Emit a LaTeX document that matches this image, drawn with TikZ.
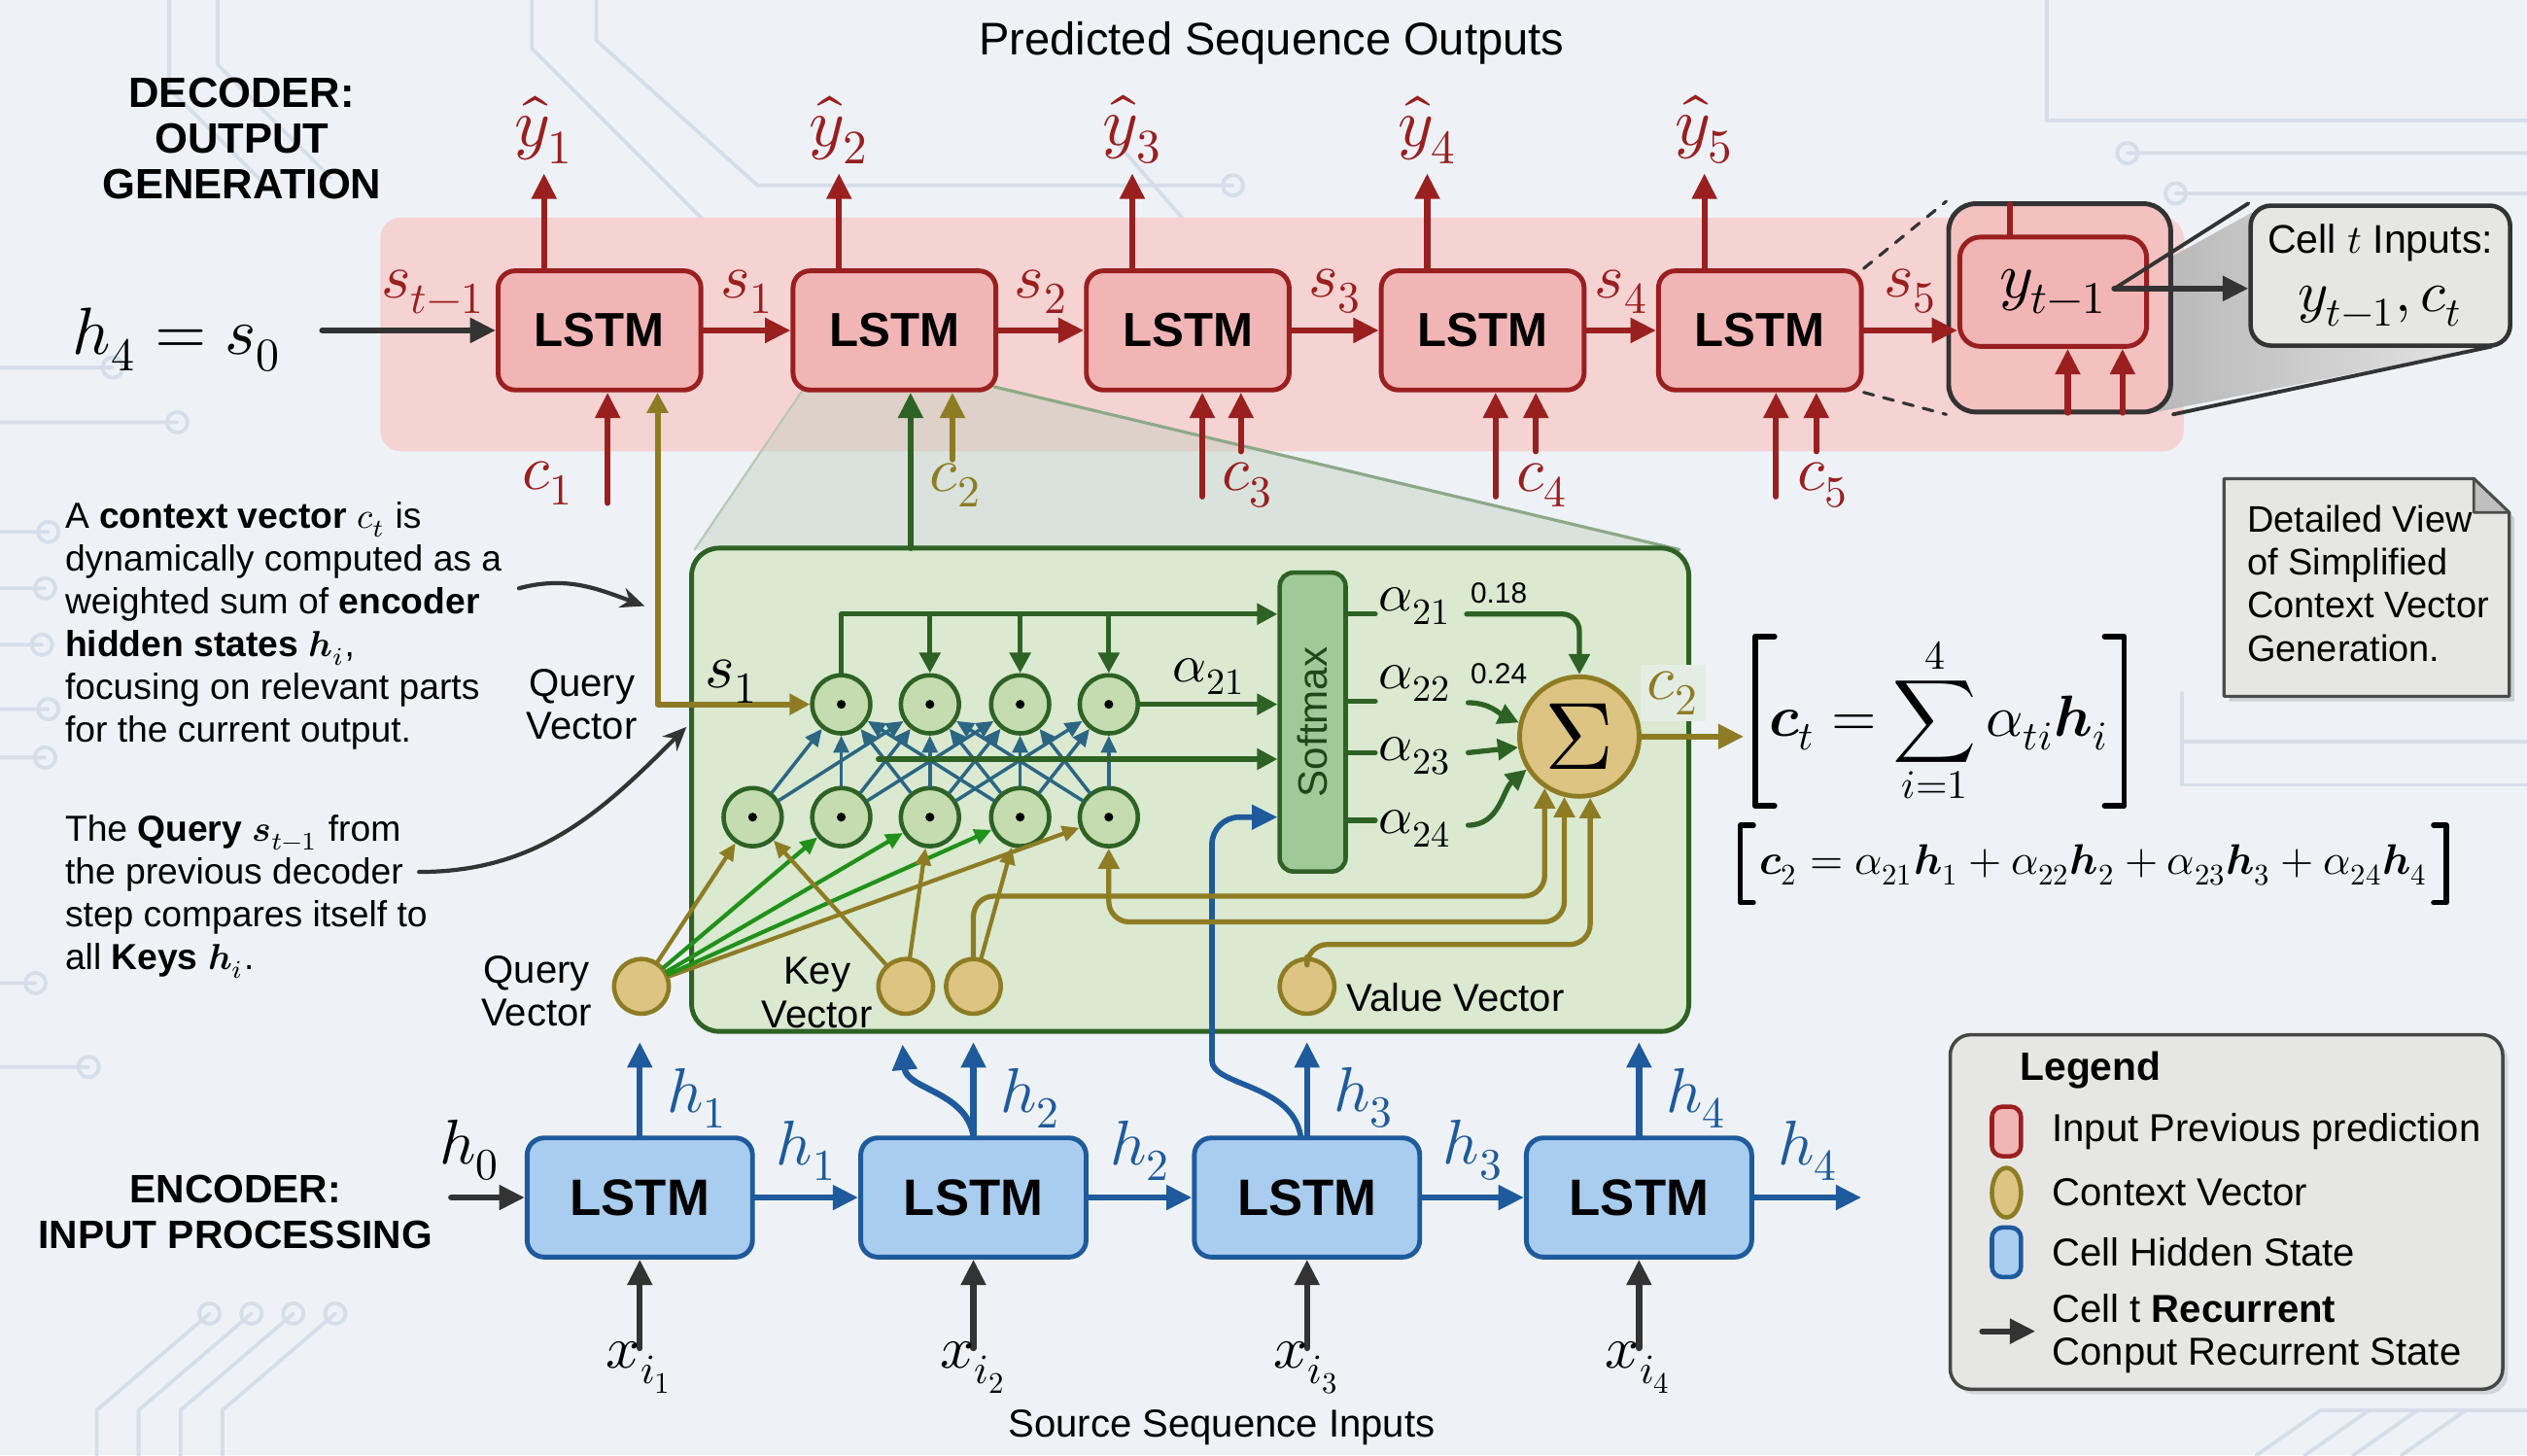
\documentclass[tikz,border=0pt]{standalone}
\usepackage{unicode-math}
\setmainfont{Liberation Sans}
\setmathfont{Latin Modern Math}
\usetikzlibrary{arrows.meta,positioning,calc,shapes.geometric,shadows}
\definecolor{bgc}{HTML}{EEF2F7}
\definecolor{trace}{HTML}{D5DEE9}
\definecolor{decred}{HTML}{9A1F1F}
\definecolor{decfill}{HTML}{F2B5B5}
\definecolor{band}{HTML}{F6D3D3}
\definecolor{encblue}{HTML}{1E5A9C}
\definecolor{encfill}{HTML}{A8CDEE}
\definecolor{attgreen}{HTML}{2E6224}
\definecolor{attfill}{HTML}{DAE9D0}
\definecolor{dotfill}{HTML}{C4DCB0}
\definecolor{smfill}{HTML}{9FCA98}
\definecolor{olive}{HTML}{8E7C24}
\definecolor{tanfill}{HTML}{DDC482}
\definecolor{crossc}{HTML}{2B6683}
\definecolor{notegray}{HTML}{E6E6E4}
\definecolor{darkg}{HTML}{333333}
\tikzset{
  bigtip/.style={-{Triangle[length=7.5pt,width=7pt]}},
  smalltip/.style={-{Triangle[length=5pt,width=4.5pt]}},
  redarr/.style={draw=decred, line width=1.8pt, bigtip},
  bluearr/.style={draw=encblue, line width=1.8pt, bigtip},
  blkarr/.style={draw=darkg, line width=1.8pt, bigtip},
  grnarr/.style={draw=attgreen, line width=1.5pt, -{Triangle[length=6pt,width=6pt]}},
  olvarr/.style={draw=olive, line width=1.5pt, -{Triangle[length=6pt,width=6pt]}},
  olvboth/.style={draw=olive, line width=1.5pt, {Triangle[length=6pt,width=6pt]}-{Triangle[length=6pt,width=6pt]}},
  fanolv/.style={draw=olive, line width=1.2pt, smalltip},
  fangrn/.style={draw=attgreen!70!green, line width=1.2pt, smalltip},
  crossarr/.style={draw=crossc, line width=1pt, smalltip},
  declstm/.style={draw=decred, fill=decfill, line width=1.4pt, rounded corners=5pt,
    minimum width=59.4pt, minimum height=34.9pt, font=\fontsize{14}{14}\selectfont\bfseries},
  enclstm/.style={draw=encblue, fill=encfill, line width=1.4pt, rounded corners=5pt,
    minimum width=66pt, minimum height=34.9pt, font=\fontsize{15}{15}\selectfont\bfseries},
  dotnode/.style={circle, draw=attgreen, fill=dotfill, line width=1.3pt, minimum size=17pt, inner sep=0pt},
  vecnode/.style={circle, draw=olive, fill=tanfill, line width=1.3pt, minimum size=16pt, inner sep=0pt},
  mlab/.style={font=\fontsize{18.5}{20}\selectfont, inner sep=1pt},
  slab/.style={font=\fontsize{15.5}{17}\selectfont, inner sep=1pt},
  txt/.style={font=\fontsize{10.6}{12.55}\selectfont, align=left, inner sep=0pt},
  lab/.style={font=\fontsize{11.4}{12.6}\selectfont, align=center, inner sep=0pt},
  head/.style={font=\fontsize{12.4}{13.4}\selectfont\bfseries, align=center, inner sep=0pt},
  trc/.style={draw=trace, line width=1.1pt},
}
\begin{document}
\begin{tikzpicture}[x=0.016582cm, y=-0.016582cm, line join=round, line cap=round]
\useasboundingbox (0,0) rectangle (1568,903);
\fill[bgc] (0,0) rectangle (1568,903);
% faint circuit traces
\foreach \y/\l in {228/70,262/110,330/30,365/28,400/26,440/30,470/28,610/22,662/55}
  \draw[trc] (0,\y) -- (\l,\y) circle (3pt);
\draw[trc] (105,0) -- (105,55) -- (165,115);
\draw[trc] (135,0) -- (135,40) -- (205,110);
\draw[trc] (330,0) -- (330,30) -- (450,150) -- (780,150) circle (3pt);
\draw[trc] (370,0) -- (370,25) -- (470,115) -- (765,115) circle (3pt);
\draw[trc] (690,85) -- (755,160);
\draw[trc] (1270,0) -- (1270,75) -- (1568,75);
\draw[trc] (1320,95) circle (3pt) -- (1568,95);
\draw[trc] (1350,120) circle (3pt) -- (1568,120);
\draw[trc] (1354,430) -- (1354,487) -- (1568,487);
\draw[trc] (1354,460) -- (1568,460);
\foreach \o in {0,1,2,3}
  \draw[trc] ({60+26*\o},903) -- ({60+26*\o},875) -- ({130+26*\o},815) circle (3pt);
\foreach \o in {0,1,2,3}
  \draw[trc] ({1400+30*\o},903) -- ({1440+30*\o},875) -- ({1568},{875-0*\o});
% headings
\node[font=\fontsize{13.4}{15}\selectfont] (title) at (789,27) {Predicted Sequence Outputs};
\node[head] (dechead) at (150,86) {DECODER:\\OUTPUT\\GENERATION};
\node[head, font=\fontsize{11.6}{13.4}\selectfont\bfseries] (enchead) at (146,752) {ENCODER:\\INPUT PROCESSING};
\node[font=\fontsize{11.4}{13}\selectfont] (srcin) at (758,886) {Source Sequence Inputs};
% decoder band and zoom wedge
\fill[band, rounded corners=6pt] (236,135) rectangle (1355,280);
\fill[attgreen!30, opacity=0.45] (498,242) -- (617,240) -- (1042,341) -- (431,341) -- cycle;
\draw[attgreen!55, line width=0.9pt] (617,240) -- (1042,341);
\draw[attgreen!35, line width=0.6pt] (498,242) -- (431,341);
\foreach \x [count=\i] in {372,555,737,920,1092}
  \node[declstm] (d\i) at (\x,205) {LSTM};
% cell t detail
\coordinate (wA) at (1312,179);
\coordinate (wB) at (1397,132);
\coordinate (wC) at (1546,215);
\coordinate (wD) at (1336,256);
\shade[left color=gray!60, right color=gray!20] (wA) -- (wB) -- (wC) -- (wD) -- cycle;
\node[draw=darkg, fill=decfill!60!band, rounded corners=8pt, line width=1.4pt, minimum width=65pt, minimum height=61pt] (zb) at (1278,191) {};
\node[draw=decred, fill=decfill, rounded corners=6pt, line width=1.4pt, minimum width=54.7pt, minimum height=32pt, font=\fontsize{19}{21}\selectfont] (yin) at (1274,181) {$y_{t-1}$};
\node[draw=darkg, fill=notegray, rounded corners=6pt, line width=1.3pt, minimum width=76pt, minimum height=41pt, align=center, font=\fontsize{11.7}{17}\selectfont] (call) at (1477,171) {Cell $t$ Inputs:\\{\fontsize{17}{19}\selectfont$y_{t-1}, c_t$}};
\draw[darkg, line width=1.1pt] (wA) -- (call.north west);
\draw[darkg, line width=1.1pt] (zb.south east) -- (wC);
\draw[blkarr] (wA) -- (wA -| call.west);
\draw[darkg, dashed, line width=0.9pt] (d5.north east) -- (zb.north west);
\draw[darkg, dashed, line width=0.9pt] (d5.south east) -- (zb.south west);
\coordinate (zt) at (1247,127);
\draw[decred, line width=1.6pt] (zt) -- (zt |- yin.north);
\foreach \x [count=\k] in {1283,1317}{
  \coordinate (zi\k) at (\x,256);
  \draw[redarr] (zi\k) -- (zi\k |- yin.south);
}
% attention block
\node[draw=attgreen, fill=attfill, line width=1.4pt, rounded corners=8pt, minimum width=292pt, minimum height=141.5pt] (att) at (738.5,490) {};
\node[draw=attgreen, fill=smfill, line width=1.3pt, rounded corners=4pt, minimum width=19.3pt, minimum height=87.5pt] (sm) at (814.5,448) {};
\node[rotate=90, font=\fontsize{12}{12}\selectfont, text=attgreen!70!black] (smtxt) at (sm.center) {Softmax};
\node[circle, draw=olive, fill=tanfill, line width=1.4pt, minimum size=35pt, inner sep=0pt, font=\fontsize{28}{28}\selectfont] (sg) at (980,457) {$\Sigma$};
\foreach \x [count=\i] in {522,577,633,688}
  \node[dotnode] (t\i) at (\x,437) {};
\foreach \x [count=\i] in {467,522,577,633,688}
  \node[dotnode] (b\i) at (\x,507) {};
\foreach \n in {t1,t2,t3,t4,b1,b2,b3,b4,b5} \fill (\n) circle (1.3pt);
\node[vecnode] (q) at (398,612) {};
\node[vecnode] (k1) at (562,612) {};
\node[vecnode] (k2) at (604,612) {};
\node[vecnode] (v) at (811,612) {};
\node[lab] (qlab) at (333,615) {Query\\Vector};
\node[lab] (klab) at (507,616) {Key\\Vector};
\node[lab, anchor=west] (vlab) at (835,619) {Value Vector};
\node[lab] (qlab2) at (361,437) {Query\\Vector};
% encoder
\foreach \x [count=\i] in {397,604,811,1017}
  \node[enclstm] (e\i) at (\x,743) {LSTM};
% decoder connectors
\coordinate (hin) at (200,205);
\node[anchor=east, font=\fontsize{19.5}{21}\selectfont] (hs) at (182,211) {$h_4 = s_0$};
\draw[blkarr] (hin) -- (d1.west) node[pos=0.64, above=3pt, mlab, text=decred] (stm) {$s_{t-1}$};
\foreach \i/\j in {1/2,2/3,3/4,4/5}
  \draw[redarr] (d\i.east) -- (d\j.west) node[midway, above=3pt, mlab, text=decred] (s\i) {$s_\i$};
\draw[redarr] (d5.east) -- (d5.east -| yin.west) node[midway, above=3pt, mlab, text=decred] (s5) {$s_5$};
\foreach \i in {1,...,5}
  \draw[redarr] ($(d\i.north west)+(30,0)$) -- ++(0,-59) node[above=1pt, mlab, font=\fontsize{20}{22}\selectfont, text=decred] (yh\i) {$\hat{y}_\i$};
\coordinate (rc1) at (377,312);
\draw[redarr] (rc1) -- (rc1 |- d1.south);
\node[mlab, text=decred] (c1) at (340,300) {$c_1$};
\coordinate (ga) at (565,340);
\draw[grnarr, line width=1.8pt, bigtip] (ga) -- (ga |- d2.south);
\coordinate (oc2) at (591,285);
\draw[olvarr, line width=1.8pt, bigtip] (oc2) -- (oc2 |- d2.south);
\node[mlab, text=olive] (c2) at (593,301) {$c_2$};
\foreach \i/\a/\b in {3/746/770,4/928/953,5/1102/1127}{
  \coordinate (ra\i) at (\a,308);
  \coordinate (rb\i) at (\b,280);
  \draw[redarr] (ra\i) -- (ra\i |- d\i.south);
  \draw[redarr] (rb\i) -- (rb\i |- d\i.south);
  \node[mlab, text=decred] (c\i) at (\b+4,301) {$c_\i$};
}
% query s_1 into the attention block
\coordinate (ql) at (408,437);
\draw[olvboth, line width=1.7pt] (t1.west) -- (ql) -- (ql |- d1.south);
\node[mlab, inner sep=0pt] (s1q) at (454,423) {$s_1$};
% scores
\foreach \i/\j in {1/1,1/2,2/1,2/2,2/3,3/1,3/2,3/3,3/4,4/1,4/2,4/3,4/4,5/2,5/3,5/4}
  \draw[crossarr] (b\i) -- (t\j);
\foreach \i in {1,5} \draw[fanolv] (q) -- (b\i);
\foreach \i in {2,3,4} \draw[fangrn] (q) -- (b\i);
\draw[fanolv] (k1) -- (b1);
\draw[fanolv] (k1) -- (b3);
\draw[fanolv] (k2) -- (b4);
\coordinate (sm1) at (sm.west |- 0,381);
\draw[grnarr] (t1.north) |- (sm1);
\foreach \i in {2,3,4} \draw[grnarr] (t\i.north |- sm1) -- (t\i.north);
\draw[grnarr] (t4.east) -- (t4.east -| sm.west) node[midway, above=1pt, slab] (a21m) {$\alpha_{21}$};
\coordinate (s3in) at (545,471);
\draw[grnarr] (s3in) -- (s3in -| sm.west);
\coordinate (bk) at (752,641);
\coordinate (bl) at (752,507);
\draw[bluearr, line width=1.6pt, rounded corners=8pt] ($(e3.north)+(-4,0)$) to[out=100,in=-90] (bk) -- (bl) -- (bl -| sm.west);
% softmax outputs
\foreach \y/\n/\ly [count=\k] in {381/21/376,435/22/424,467/23/469,509/24/514}{
  \coordinate (so\k) at (sm.east |- 0,\y);
  \draw[attgreen, line width=1.5pt] (so\k) -- ++(17,0);
  \node[slab] (al\k) at (878,\ly) {$\alpha_{\n}$};
}
\node[font=\fontsize{8.5}{9}\selectfont] (p1) at (930,368) {0.18};
\node[font=\fontsize{8.5}{9}\selectfont] (p2) at (930,418) {0.24};
\coordinate (ae1) at (910,381);
\draw[grnarr, rounded corners=5pt] (ae1) -| (sg.north);
\coordinate (ae2) at (911,436);
\draw[grnarr] (ae2) to[out=0,in=155] (sg.167);
\coordinate (ae3) at (911,467);
\draw[grnarr] (ae3) -- (sg.190);
\coordinate (ae4) at (911,512);
\draw[grnarr] (ae4) to[out=0,in=220] (sg.212);
\coordinate (o1) at (604,556);
\coordinate (o2) at (688,572);
\coordinate (o3) at (811,586);
\draw[olvarr, rounded corners=6pt] (k2.north) -- (o1) -- (o1 -| sg.236) -- (sg.236);
\draw[olvboth, rounded corners=6pt] (b5.south) -- (o2) -- (o2 -| sg.256) -- (sg.256);
\draw[olvarr, rounded corners=6pt] (v.north) -- (o3) -- (o3 -| sg.280) -- (sg.280);
\coordinate (cout) at (1082,457);
\draw[olvarr, line width=1.8pt, bigtip] (sg.east) -- (cout);
\node[mlab, text=olive, fill=attfill!50!bgc, inner sep=2pt] (c2o) at (1038,430) {$c_2$};
% encoder connectors
\coordinate (h0in) at (280,743);
\draw[blkarr] (h0in) -- (e1.west) node[pos=0.25, above=3pt, mlab] (h0) {$h_0$};
\foreach \i/\j in {1/2,2/3,3/4}
  \draw[bluearr] (e\i.east) -- (e\j.west) node[midway, above=3pt, mlab, text=encblue] (hr\i) {$h_\i$};
\coordinate (hout) at (1155,743);
\draw[bluearr] (e4.east) -- (hout) node[midway, above=3pt, mlab, text=encblue] (hr4) {$h_4$};
\foreach \i in {1,...,4}
  \draw[bluearr] (e\i.north) -- ++(0,-58) node[pos=0.4, right=6pt, mlab, text=encblue] (hu\i) {$h_\i$};
\coordinate (k1in) at (560,648);
\draw[bluearr] (e2.north) to[out=100,in=-85] (k1in);
\foreach \i in {1,...,4}{
  \coordinate (xi\i) at ($(e\i.south)+(0,55)$);
  \draw[blkarr] (xi\i) -- (e\i.south);
  \node[mlab, font=\fontsize{17.5}{19}\selectfont, below=-3pt] (xl\i) at (xi\i) {$x_{i_\i}$};
}
% side notes
\node[txt, anchor=north west] (note1) at (40,311) {A \textbf{context vector} $c_t$ is\\dynamically computed as a\\weighted sum of \textbf{encoder}\\\textbf{hidden states} $\symbfit{h}_i$,\\focusing on relevant parts\\for the current output.};
\node[txt, anchor=north west] (note2) at (40,505) {The \textbf{Query} $\symbfit{s}_{t-1}$ from\\the previous decoder\\step compares itself to\\all \textbf{Keys} $\symbfit{h}_i$.};
\coordinate (n1s) at (322,365);
\coordinate (n1e) at (400,376);
\draw[darkg, line width=1.2pt, -{Stealth[length=7pt,width=6pt]}] (n1s) to[out=15,in=160] (n1e);
\coordinate (n2s) at (260,541);
\coordinate (n2e) at (426,451);
\draw[darkg, line width=1.2pt, -{Stealth[length=7pt,width=6pt]}] (n2s) to[out=0,in=225] (n2e);
% formulas
\draw[line width=1.7pt] (1101,395) -- (1089,395) -- (1089,500) -- (1101,500);
\draw[line width=1.7pt] (1306,395) -- (1318,395) -- (1318,500) -- (1306,500);
\node[font=\fontsize{17}{20}\selectfont] (f1) at (1203,447) {$\displaystyle \symbfit{c}_t = \sum_{i=1}^{4} \alpha_{ti}\symbfit{h}_i$};
\draw[line width=1.5pt] (1088,512) -- (1080,512) -- (1080,560) -- (1088,560);
\draw[line width=1.5pt] (1510,512) -- (1518,512) -- (1518,560) -- (1510,560);
\node[font=\fontsize{12.5}{15}\selectfont] (f2) at (1299,537) {$\symbfit{c}_2 = \alpha_{21}\symbfit{h}_1 + \alpha_{22}\symbfit{h}_2 + \alpha_{23}\symbfit{h}_3 + \alpha_{24}\symbfit{h}_4$};
% detail note
\filldraw[fill=notegray, draw=gray!60!black, line width=0.9pt, drop shadow={opacity=0.3, shadow xshift=1.5pt, shadow yshift=-1.5pt}] (1380,297) -- (1535,297) -- (1557,318) -- (1557,432) -- (1380,432) -- cycle;
\filldraw[fill=gray!50, draw=gray!60!black, line width=0.8pt] (1535,297) -- (1535,318) -- (1557,318) -- cycle;
\node[txt, anchor=north west, font=\fontsize{10.8}{12.6}\selectfont] (note3) at (1394,313) {Detailed View\\of Simplified\\Context Vector\\Generation.};
% legend
\node[draw=gray!55!black, fill=notegray, rounded corners=6pt, line width=1pt, minimum width=161.8pt, minimum height=103.8pt, drop shadow={opacity=0.25, shadow xshift=1.5pt, shadow yshift=-1.5pt}] (leg) at (1381.5,752) {};
\node[font=\fontsize{11.6}{13}\selectfont\bfseries, anchor=west] (legt) at (1246,664) {Legend};
\node[draw=decred, fill=decfill, rounded corners=3pt, line width=1.3pt, minimum width=8.5pt, minimum height=14.5pt, inner sep=0pt] (sw1) at (1245,702) {};
\node[ellipse, draw=olive, fill=tanfill, line width=1.3pt, minimum width=8.5pt, minimum height=14.5pt, inner sep=0pt] (sw2) at (1245,740) {};
\node[draw=encblue, fill=encfill, rounded corners=3pt, line width=1.3pt, minimum width=8.5pt, minimum height=14.5pt, inner sep=0pt] (sw3) at (1245,777) {};
\coordinate (sw4a) at (1230,826);
\coordinate (sw4b) at (1263,826);
\draw[blkarr] (sw4a) -- (sw4b);
\foreach \n/\y/\t in {l1/702/Input Previous prediction, l2/740/Context Vector, l3/777/Cell Hidden State, l4/812/Cell t \textbf{Recurrent}, l5/841/Conput Recurrent State}
  \node[lab, anchor=west] (\n) at (1273,\y) {\t};
\end{tikzpicture}
\end{document}
